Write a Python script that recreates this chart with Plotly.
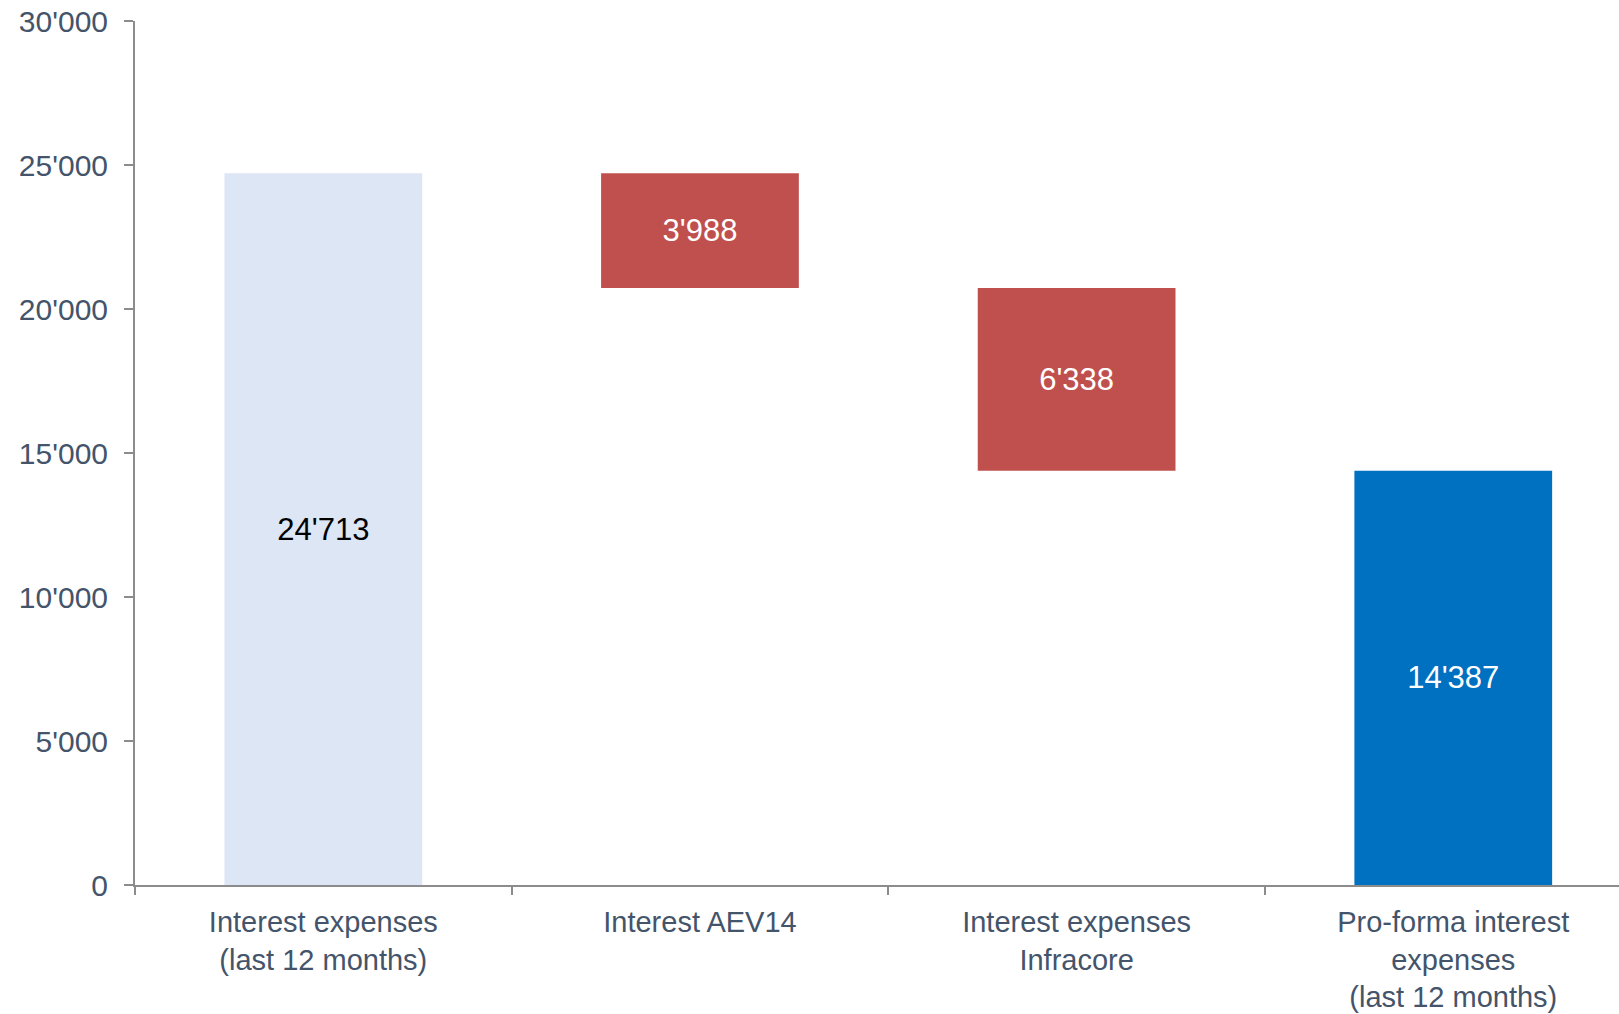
import plotly.graph_objects as go

categories = ["Interest expenses<br>(last 12 months)", "Interest AEV14",
              "Interest expenses<br>Infracore", "Pro-forma interest<br>expenses<br>(last 12 months)"]
values = [24713, -3988, -6338, 14387]
measures = ["absolute", "relative", "relative", "total"]
bar_colors = ["#dce6f4", "#c0504d", "#c0504d", "#0070c0"]
label_colors = ["#000000", "#ffffff", "#ffffff", "#ffffff"]
y_tickvals = [0, 5000, 10000, 15000, 20000, 25000, 30000]
y_ticktext = ["0", "5'000", "10'000", "15'000", "20'000", "25'000", "30'000"]

bases, heights, texts = [], [], []
running = 0
for v, m in zip(values, measures):
    if m == "absolute" or m == "total":
        running = v if m == "absolute" else running
        bases.append(0)
        heights.append(running)
    else:
        new = running + v
        bases.append(min(running, new))
        heights.append(abs(v))
        running = new
    texts.append(f"{abs(v):,}".replace(",", "'"))

FONT = "Liberation Sans, Arial, sans-serif"
TXT = "#44546a"

fig = go.Figure(go.Bar(
    x=categories, y=heights, base=bases,
    marker=dict(color=bar_colors, line=dict(width=0)),
    width=0.525,
    text=texts, textposition="inside", insidetextanchor="middle",
    textangle=0,
    textfont=dict(family=FONT, size=31, color=label_colors),
    hoverinfo="skip",
))

fig.update_layout(
    width=1619, height=1014,
    margin=dict(l=135, r=0, t=21, b=129),
    paper_bgcolor="white", plot_bgcolor="white",
    showlegend=False,
    font=dict(family=FONT, size=29, color=TXT),
    xaxis=dict(
        type="category", categoryorder="array", categoryarray=categories,
        range=[-0.5, 3.44], showline=True, linecolor="#8c8c8c", linewidth=2,
        ticks="outside", tickson="boundaries", ticklen=8, tickcolor="#8c8c8c", tickwidth=2,
        showgrid=False, zeroline=False, ticklabelstandoff=10,
        tickfont=dict(family=FONT, size=29, color=TXT),
    ),
    yaxis=dict(
        range=[0, 30000], tickmode="array", tickvals=y_tickvals, ticktext=y_ticktext,
        showline=True, linecolor="#8c8c8c", linewidth=2,
        ticks="outside", ticklen=9, tickcolor="#8c8c8c", tickwidth=2,
        showgrid=False, zeroline=False, ticklabelstandoff=10,
        tickfont=dict(family=FONT, size=30, color=TXT),
    ),
)

fig.write_html("out.html")
